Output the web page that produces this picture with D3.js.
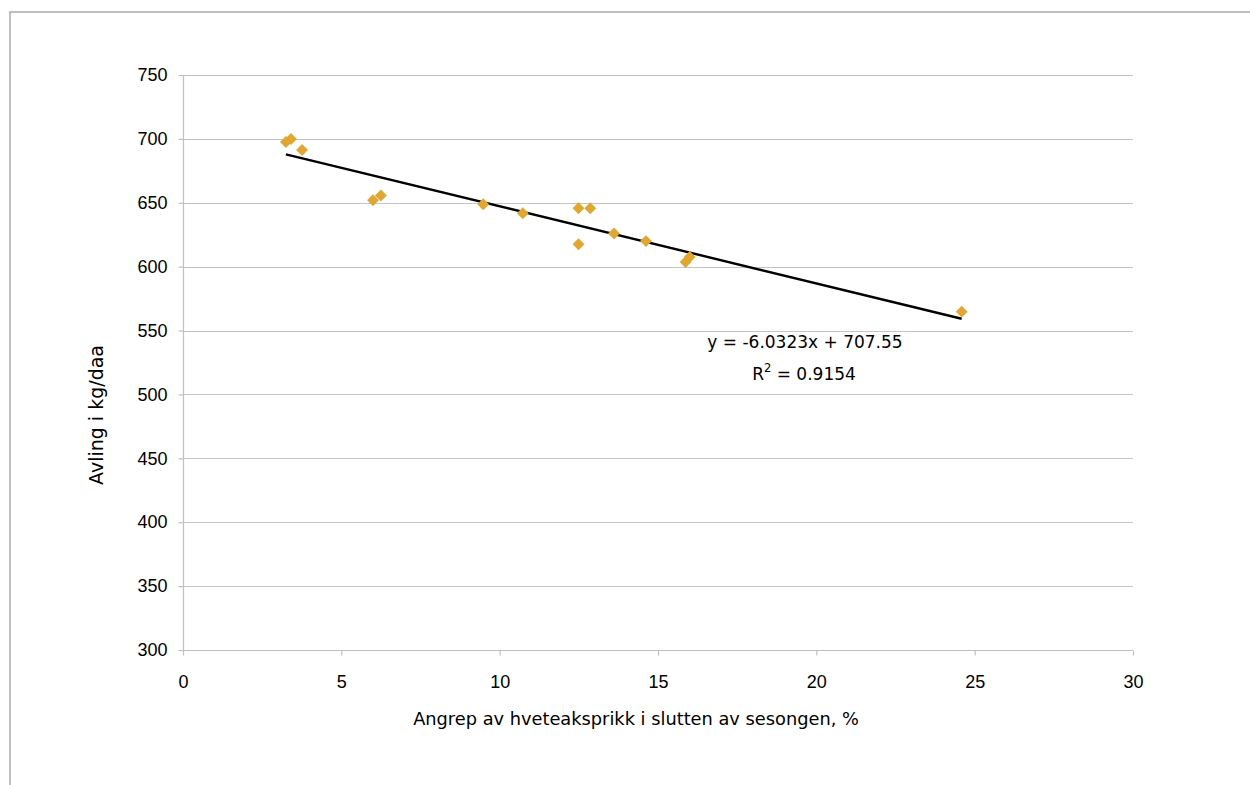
<!DOCTYPE html>
<html>
<head>
<meta charset="utf-8">
<script src="https://cdn.jsdelivr.net/npm/d3@7"></script>
<style>
  html, body { margin: 0; padding: 0; background: #fff; }
  svg { display: block; }
</style>
</head>
<body>
<svg id="chart" width="1250" height="785"></svg>
<script>
// Attack of glume blotch at season end (%) vs. yield (kg/daa)
const attackPct = [3.25, 3.41, 3.76, 6.0, 6.25, 9.48, 10.73, 12.49, 12.86, 12.49, 13.61, 14.62, 15.87, 16.0, 24.59];
const yieldKg   = [697.6, 699.9, 691.3, 652.0, 655.7, 648.8, 641.8, 645.7, 645.7, 617.5, 626.0, 620.0, 603.6, 607.6, 564.8];

const xTicks = [0, 5, 10, 15, 20, 25, 30];
const yTicks = [300, 350, 400, 450, 500, 550, 600, 650, 700, 750];

// Linear trend line coefficients
const slope = -6.0323;
const intercept = 707.55;
const rSquared = 0.9154;

const xTitle = "Angrep av hveteaksprikk i slutten av sesongen, %";
const yTitle = "Avling i kg/daa";

const svg = d3.select("#chart");
const W = 1250, H = 785;
const plot = { left: 183, right: 1133, top: 75, bottom: 650 };

const tickFont = "'Liberation Sans', Arial, sans-serif";
const titleFont = "'DejaVu Sans', Verdana, sans-serif";

// Outer chart frame
svg.append("path")
  .attr("d", `M10,${H + 2} L10,12 L${W + 2},12`)
  .attr("fill", "none")
  .attr("stroke", "#ababab")
  .attr("stroke-width", 1.5);

const x = d3.scaleLinear().domain([0, 30]).range([plot.left, plot.right]);
const y = d3.scaleLinear().domain([300, 750]).range([plot.bottom, plot.top]);

// Horizontal gridlines
svg.append("g")
  .selectAll("line")
  .data(yTicks.filter(t => t !== 300))
  .join("line")
  .attr("x1", plot.left).attr("x2", plot.right)
  .attr("y1", d => Math.round(y(d)) + 0.5).attr("y2", d => Math.round(y(d)) + 0.5)
  .attr("stroke", "#c4c4c4").attr("stroke-width", 1.2);

// Y axis
const yAxis = svg.append("g")
  .attr("transform", `translate(${plot.left + 0.5},0)`)
  .call(d3.axisLeft(y).tickValues(yTicks).tickSize(5).tickPadding(11).tickFormat(d3.format("d")));
yAxis.select(".domain").attr("stroke", "#c0c0c0").attr("stroke-width", 1.2).attr("d", `M0,${plot.top}V${plot.bottom}`);
yAxis.selectAll(".tick line").attr("stroke", "#c0c0c0").attr("stroke-width", 1.2);
yAxis.selectAll(".tick text")
  .attr("font-family", tickFont).attr("font-size", 18).attr("fill", "#000");

// X axis
const xAxis = svg.append("g")
  .attr("transform", `translate(0,${Math.round(y(300)) + 0.5})`)
  .call(d3.axisBottom(x).tickValues(xTicks).tickSize(5).tickPadding(20).tickFormat(d3.format("d")));
xAxis.select(".domain").attr("stroke", "#c0c0c0").attr("stroke-width", 1.2).attr("d", `M${plot.left},0H${plot.right}`);
xAxis.selectAll(".tick line").attr("stroke", "#c0c0c0").attr("stroke-width", 1.2);
xAxis.selectAll(".tick text")
  .attr("font-family", tickFont).attr("font-size", 18).attr("fill", "#000");

// Trend line over the observed range
const xMin = d3.min(attackPct), xMax = d3.max(attackPct);
svg.append("line")
  .attr("x1", x(xMin)).attr("y1", y(slope * xMin + intercept))
  .attr("x2", x(xMax)).attr("y2", y(slope * xMax + intercept))
  .attr("stroke", "#000").attr("stroke-width", 2.4);

// Data points as diamonds
const diamond = d3.symbol().type(d3.symbolDiamond2).size(90);
svg.append("g")
  .selectAll("path")
  .data(attackPct.map((v, i) => [v, yieldKg[i]]))
  .join("path")
  .attr("d", diamond)
  .attr("transform", d => `translate(${x(d[0])},${y(d[1])})`)
  .attr("fill", "#e0a832");

// Trend equation labels
const eq = svg.append("g").attr("font-family", titleFont).attr("font-size", 17).attr("fill", "#000");
eq.append("text")
  .attr("x", 805).attr("y", 348)
  .attr("text-anchor", "middle")
  .text(`y = ${slope}x + ${intercept}`);
const r2 = eq.append("text")
  .attr("x", 804).attr("y", 380)
  .attr("text-anchor", "middle");
r2.append("tspan").text("R");
r2.append("tspan").attr("font-size", 11.5).attr("dy", -8).text("2");
r2.append("tspan").attr("dy", 8).text(` = ${rSquared}`);

// Axis titles
svg.append("text")
  .attr("x", 636).attr("y", 725)
  .attr("text-anchor", "middle")
  .attr("font-family", titleFont).attr("font-size", 17.8)
  .text(xTitle);

svg.append("text")
  .attr("transform", "translate(103,415) rotate(-90)")
  .attr("text-anchor", "middle")
  .attr("font-family", titleFont).attr("font-size", 19)
  .text(yTitle);
</script>
</body>
</html>
